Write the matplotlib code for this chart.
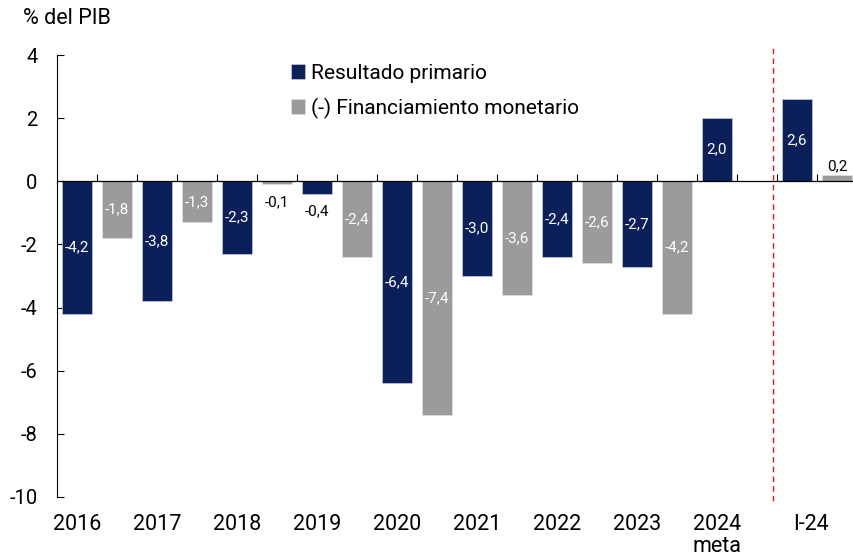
"""Resultado primario y financiamiento monetario, % del PIB."""

import matplotlib
import numpy as np

matplotlib.use("Agg")
import matplotlib.pyplot as plt

plt.rcParams["font.family"] = ["Roboto", "DejaVu Sans"]

# Daten
kategorien = ["2016", "2017", "2018", "2019", "2020", "2021", "2022", "2023", "2024\nmeta", "I-24"]
resultado_primario = [-4.2, -3.8, -2.3, -0.4, -6.4, -3.0, -2.4, -2.7, 2.0, 2.6]
financiamiento = [-1.8, -1.3, -0.1, -2.4, -7.4, -3.6, -2.6, -4.2, np.nan, 0.2]
y_ticks = [4, 2, 0, -2, -4, -6, -8, -10]

navy = "#0b1f5b"
grau = "#9b9b9b"

fig = plt.figure(figsize=(8.54, 5.57), dpi=100)
ax = fig.add_axes([57 / 854, 60 / 557, 797 / 854, 442 / 557])

n = len(kategorien)
x_rp = np.arange(n) * 2
x_fm = x_rp + 1
breite = 0.75

ax.bar(x_rp, resultado_primario, breite, color=navy, edgecolor="#d8dbe6", linewidth=0.4,
       label="Resultado primario", zorder=2)
ax.bar(x_fm, financiamiento, breite, color=grau, edgecolor="#e2e2e2", linewidth=0.4,
       label="(-) Financiamiento monetario", zorder=2)


def beschriften(xs, werte):
    for x, v in zip(xs, werte):
        if np.isnan(v):
            continue
        txt = f"{v:.1f}".replace(".", ",")
        if abs(v) < 1.0:
            # kleine Werte ausserhalb des Balkens
            off = 0.28 if v > 0 else -0.55
            ax.text(x, v + off, txt, ha="center", va="center", fontsize=11, color="black")
        else:
            ax.text(x, v / 2, txt, ha="center", va="center", fontsize=11, color="white")


beschriften(x_rp, resultado_primario)
beschriften(x_fm, financiamiento)

ax.set_xlim(-0.5, -0.5 + 797 / 40)
ax.set_ylim(-10, 4)
ax.set_yticks(y_ticks)
ax.set_yticklabels([str(t) for t in y_ticks], fontsize=14.5)
ax.tick_params(axis="y", direction="in", length=5, width=0.8, pad=14)

ax.spines["top"].set_visible(False)
ax.spines["right"].set_visible(False)
ax.spines["bottom"].set_position(("data", 0))
ax.spines["left"].set_linewidth(0.8)
ax.spines["bottom"].set_linewidth(0.9)

ax.set_xticks(np.arange(n * 2 - 1) + 0.5)
ax.set_xticklabels([])
ax.tick_params(axis="x", direction="in", length=5, width=0.8)

# Kategorienbeschriftung unter der Grafik (I-24 leicht nach rechts versetzt)
label_x = x_rp.astype(float)
label_x[-1] += 0.35
for x, k in zip(label_x, kategorien):
    ax.text(x, -0.038, k, transform=ax.get_xaxis_transform(), ha="center", va="top",
            fontsize=15.5, linespacing=1.08)

ax.axvline(17.41, ymin=-0.01, ymax=1.022, color="#d7191c", linestyle=(0, (4, 3)), linewidth=1.0,
           clip_on=False, zorder=3)

fig.text(23 / 854, 1 - 18 / 557, "% del PIB", ha="left", va="center", fontsize=15.5)

ax.legend(loc="upper left", bbox_to_anchor=(0.293, 0.98), frameon=False, fontsize=15,
          handlelength=0.7, handleheight=0.7, handletextpad=0.3, labelspacing=0.7,
          borderaxespad=0, borderpad=0)

fig.savefig("out.png", dpi=100)
